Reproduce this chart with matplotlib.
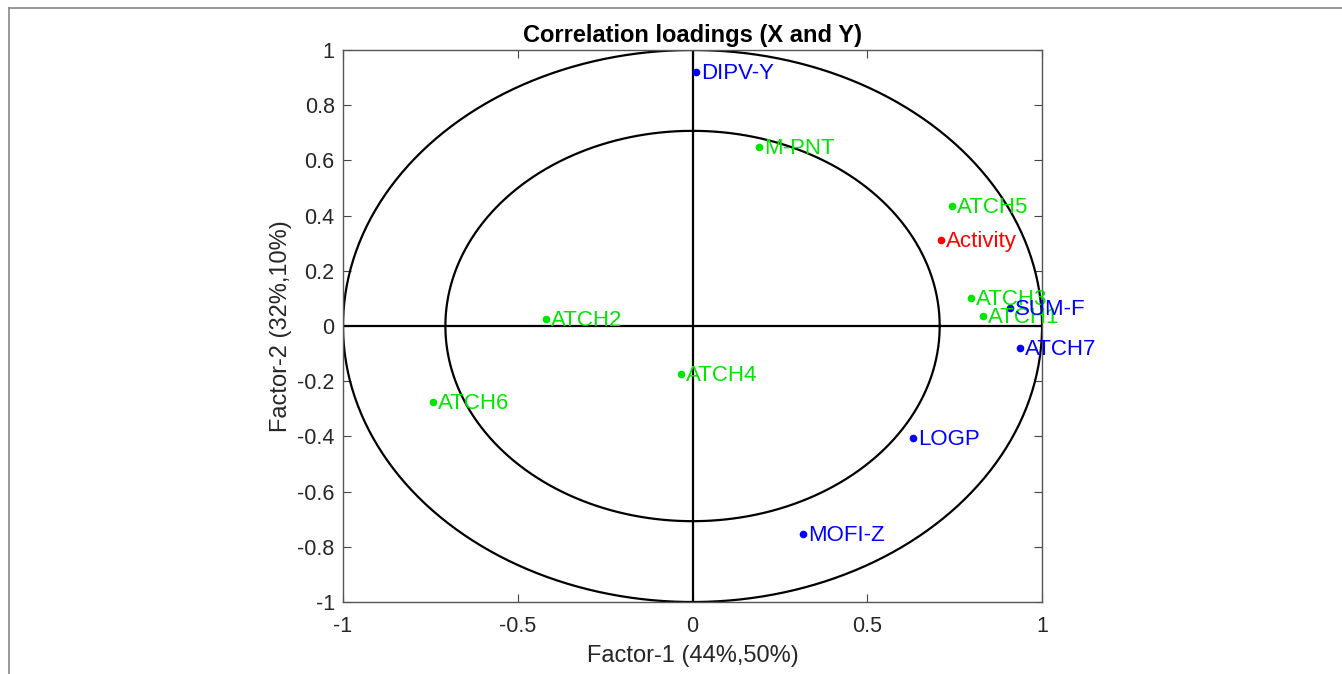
import numpy as np
import matplotlib
matplotlib.use("Agg")
import matplotlib.pyplot as plt
from matplotlib.lines import Line2D

plt.rcParams['font.family'] = ['Liberation Sans', 'DejaVu Sans']

# loadings
x_names = ["DIPV-Y", "SUM-F", "ATCH7", "LOGP", "MOFI-Z"]
x_f1 = [0.01, 0.909, 0.937, 0.631, 0.316]
x_f2 = [0.92, 0.065, -0.08, -0.406, -0.754]

g_names = ["M-PNT", "ATCH5", "ATCH3", "ATCH1", "ATCH2", "ATCH4", "ATCH6"]
g_f1 = [0.19, 0.743, 0.797, 0.831, -0.42, -0.033, -0.743]
g_f2 = [0.65, 0.435, 0.101, 0.036, 0.025, -0.174, -0.275]

y_names = ["Activity"]
y_f1 = [0.711]
y_f2 = [0.312]

ticks_x = [-1, -0.5, 0, 0.5, 1]
ticks_y = [-1, -0.8, -0.6, -0.4, -0.2, 0, 0.2, 0.4, 0.6, 0.8, 1]

fig = plt.figure(figsize=(13.42, 6.74), dpi=100)
ax = fig.add_axes([0.2556, 0.1068, 0.5209, 0.819])

t = np.linspace(0, 2 * np.pi, 400)
ax.plot(np.cos(t), np.sin(t), color="black", lw=1.6)
r = np.sqrt(0.5)
ax.plot(r * np.cos(t), r * np.sin(t), color="black", lw=1.6)
ax.plot([-1, 1], [0, 0], color="black", lw=1.6)
ax.plot([0, 0], [-1, 1], color="black", lw=1.6)

for names, xs, ys, col in [(g_names, g_f1, g_f2, "#00e600"),
                           (x_names, x_f1, x_f2, "#0000ff"),
                           (y_names, y_f1, y_f2, "#ff0000")]:
    ax.plot(xs, ys, "o", color=col, ms=4.5, ls="none")
    for n, a, b in zip(names, xs, ys):
        ax.annotate(n, (a, b), xytext=(3.5, -1), textcoords="offset points",
                    color=col, fontsize=16, va="center", ha="left")

ax.set_xlim(-1, 1)
ax.set_ylim(-1, 1)
ax.set_xticks(ticks_x)
ax.set_xticklabels(["-1", "-0.5", "0", "0.5", "1"])
ax.set_yticks(ticks_y)
ax.set_yticklabels(["-1", "-0.8", "-0.6", "-0.4", "-0.2", "0", "0.2", "0.4", "0.6", "0.8", "1"])
ax.tick_params(direction="in", top=True, right=True, length=6, labelsize=15.5,
               color="#444444", labelcolor="#262626")
ax.tick_params(axis="x", pad=10)
ax.tick_params(axis="y", pad=6)
for s in ax.spines.values():
    s.set_color("#555555")
    s.set_linewidth(1.0)

ax.set_xlabel("Factor-1 (44%,50%)", fontsize=17, color="#262626", labelpad=6)
ax.set_ylabel("Factor-2 (32%,10%)", fontsize=17, color="#262626", labelpad=4)
ax.set_title("Correlation loadings (X and Y)", fontsize=17, fontweight="bold", pad=6)

# figure border (left and top only)
fig.add_artist(Line2D([9 / 1342, 9 / 1342], [0, 1 - 8 / 674], color="#888888", lw=1.2))
fig.add_artist(Line2D([9 / 1342, 1], [1 - 8 / 674, 1 - 8 / 674], color="#888888", lw=1.2))

fig.savefig("out.png", dpi=100)
